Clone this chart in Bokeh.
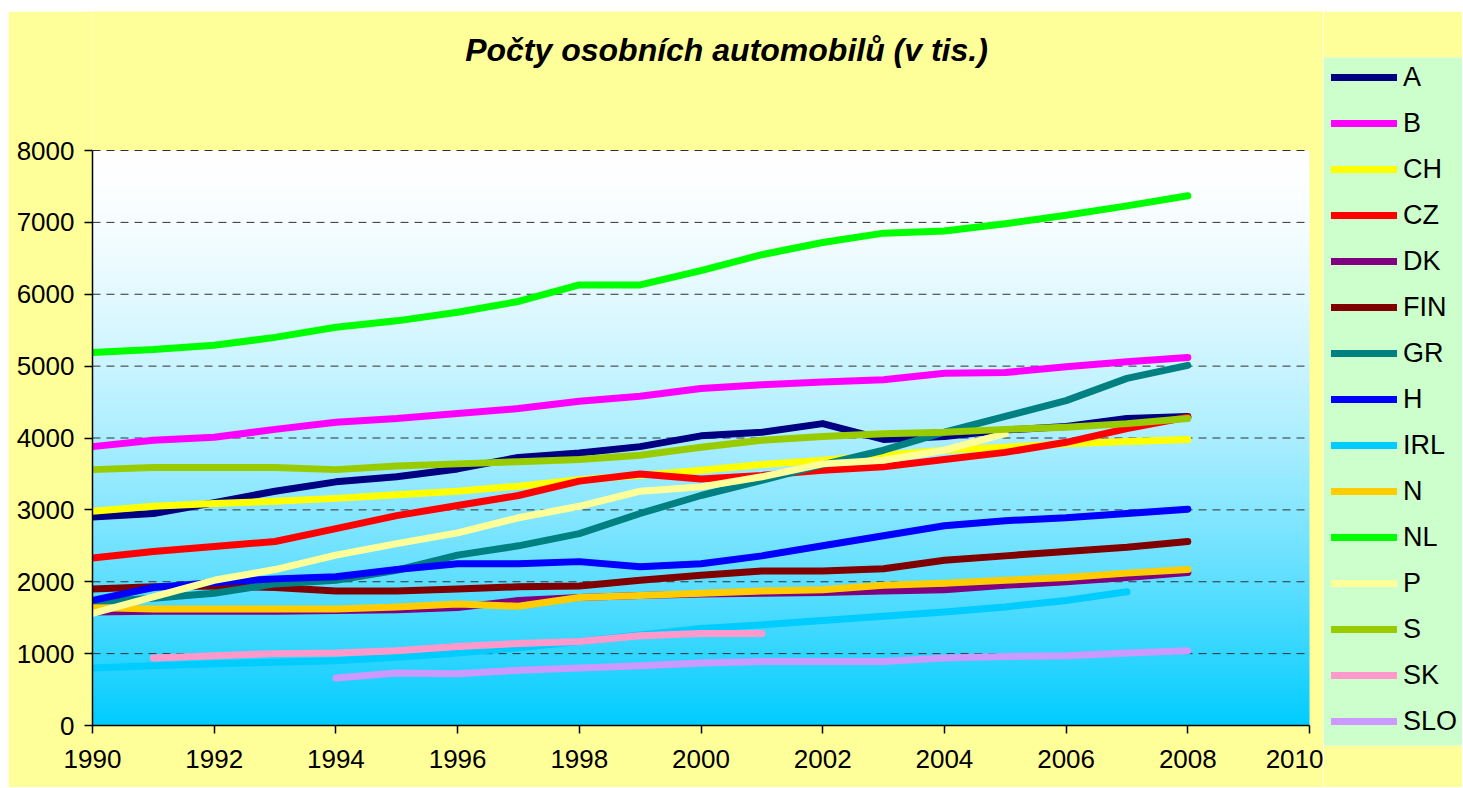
import numpy as np
from bokeh.plotting import figure
from bokeh.models import Range1d, FixedTicker, Legend, LegendItem, Label, Spacer
from bokeh.layouts import row, column
from bokeh.embed import file_html
from bokeh.resources import INLINE

# ---- data (thousands of passenger cars) ----
years = list(range(1990, 2009))
A = [2900, 2950, 3100, 3260, 3390, 3460, 3570, 3730, 3790, 3880, 4030, 4080, 4200, 3980, 4020, 4110, 4160, 4270, 4300]
B = [3880, 3970, 4010, 4120, 4220, 4270, 4340, 4410, 4510, 4580, 4690, 4740, 4780, 4810, 4900, 4910, 4990, 5060, 5120]
CH = [2980, 3050, 3090, 3120, 3160, 3210, 3260, 3330, 3420, 3480, 3550, 3630, 3690, 3760, 3830, 3870, 3920, 3950, 3980]
CZ = [2330, 2420, 2490, 2560, 2740, 2920, 3060, 3200, 3400, 3500, 3430, 3480, 3550, 3600, 3700, 3800, 3940, 4130, 4290]
DK = [1580, 1590, 1590, 1590, 1600, 1610, 1640, 1740, 1780, 1810, 1830, 1840, 1850, 1870, 1890, 1950, 2000, 2060, 2130]
FIN = [1900, 1930, 1940, 1920, 1870, 1870, 1900, 1930, 1940, 2020, 2090, 2150, 2150, 2180, 2300, 2360, 2420, 2480, 2560]
GR = [1720, 1770, 1840, 1970, 2020, 2160, 2370, 2500, 2670, 2950, 3200, 3410, 3630, 3830, 4080, 4300, 4520, 4830, 5010]
H = [1740, 1920, 1990, 2040, 2070, 2170, 2250, 2250, 2280, 2210, 2250, 2360, 2500, 2640, 2780, 2850, 2890, 2950, 3010]
IRL = [800, 830, 860, 880, 900, 950, 1010, 1080, 1170, 1260, 1350, 1400, 1460, 1520, 1580, 1650, 1740, 1860, None]
N = [1640, 1620, 1620, 1620, 1620, 1650, 1690, 1660, 1780, 1810, 1840, 1870, 1890, 1950, 1980, 2020, 2060, 2120, 2170]
NL = [5190, 5230, 5290, 5400, 5540, 5630, 5750, 5900, 6130, 6130, 6330, 6550, 6720, 6850, 6880, 6980, 7100, 7230, 7370]
P = [1560, 1790, 2020, 2170, 2370, 2530, 2680, 2890, 3050, 3260, 3320, 3460, 3640, 3690, 3830, 4060, None, None, None]
S = [3560, 3590, 3590, 3590, 3560, 3610, 3640, 3670, 3700, 3760, 3870, 3970, 4020, 4060, 4080, 4120, 4150, 4200, 4270]
SK = [None, 940, 970, 1000, 1010, 1040, 1100, 1140, 1170, 1250, 1280, 1280, None, None, None, None, None, None, None]
SLO = [None, None, None, None, 660, 730, 720, 770, 800, 830, 870, 890, 890, 890, 940, 960, 970, 1010, 1040]

series_names = ["A", "B", "CH", "CZ", "DK", "FIN", "GR", "H", "IRL", "N", "NL", "P", "S", "SK", "SLO"]
series_values = [A, B, CH, CZ, DK, FIN, GR, H, IRL, N, NL, P, S, SK, SLO]
series_colors = ["#000080", "#FF00FF", "#FFFF00", "#FF0000", "#800080", "#800000", "#008080",
                 "#0000FF", "#00CCFF", "#FFCC00", "#00FF00", "#FFFF99", "#99CC00", "#FF99CC", "#CC99FF"]
y_ticks = list(range(0, 8001, 1000))
x_ticks = list(range(1990, 2011, 2))
title_text = "Počty osobních automobilů (v tis.)"

FONT = "Liberation Sans"
YELLOW = "#FFFF99"

# ---- geometry (pixels) ----
LEFT_PAD, TOP_PAD = 8, 11
MAIN_W, H_ALL = 1315, 776
BORDER_L, BORDER_B = 84, 62
frame_w = MAIN_W - BORDER_L            # 1231
frame_h = H_ALL - BORDER_B             # 714
px_per_year = 1217 / 20.0
px_per_unit = 575 / 8000.0
x0 = x_ticks[0]
y0 = y_ticks[0]
x_end = x0 + frame_w / px_per_year
y_end = y0 + frame_h / px_per_unit

p = figure(width=MAIN_W, height=H_ALL, output_backend="svg", toolbar_location=None,
           x_range=Range1d(x0, x_end), y_range=Range1d(y0, y_end),
           min_border_left=BORDER_L, min_border_right=0, min_border_top=0,
           min_border_bottom=BORDER_B)
p.frame_align = False
p.border_fill_color = YELLOW
p.background_fill_color = YELLOW
p.outline_line_color = None

# gradient background of the plot area (white top -> cyan bottom)
n = 575
img = np.empty((n, 1), dtype=np.uint32)
view = img.view(dtype=np.uint8).reshape((n, 1, 4))
t = 1.0 - (np.arange(n) + 0.5) / n
s = t ** 1.6
view[:, 0, 0] = np.clip(255 * (1 - s), 0, 255).astype(np.uint8)
view[:, 0, 1] = np.clip(255 - 51 * s, 0, 255).astype(np.uint8)
view[:, 0, 2] = 255
view[:, 0, 3] = 255
p.image_rgba(image=[img], x=x_ticks[0], y=y_ticks[0],
             dw=x_ticks[-1] - x_ticks[0], dh=y_ticks[-1] - y_ticks[0], level="image")

# dashed horizontal grid lines limited to the plot area
gy = y_ticks[1:]
p.segment(x0=[x_ticks[0]] * len(gy), x1=[x_ticks[-1]] * len(gy), y0=gy, y1=gy,
          line_color="#303030", line_width=1, line_dash="8 6", level="underlay")
p.xgrid.grid_line_color = None
p.ygrid.grid_line_color = None

# axes
for ax in (p.xaxis[0], p.yaxis[0]):
    ax.axis_line_color = "black"
    ax.axis_line_width = 1.5
    ax.major_tick_line_color = "black"
    ax.major_tick_line_width = 1.5
    ax.major_tick_out = 8
    ax.major_tick_in = 0
    ax.minor_tick_line_color = None
    ax.major_label_text_font = FONT
    ax.major_label_text_font_size = "26px"
    ax.major_label_text_color = "black"
p.xaxis.ticker = FixedTicker(ticks=x_ticks)
p.yaxis.ticker = FixedTicker(ticks=y_ticks)
p.xaxis.bounds = (x_ticks[0], x_ticks[-1])
p.yaxis.bounds = (y_ticks[0], y_ticks[-1])
p.xaxis.major_label_standoff = 16
p.yaxis.major_label_standoff = 10

# title as a label placed above the plot area
title_cx = x0 + (726 - 92) / px_per_year
title_base = y0 + (725 - 49) / px_per_unit
p.add_layout(Label(x=title_cx, y=title_base, text=title_text, text_align="center",
                   text_baseline="alphabetic", text_font=FONT, text_font_size="32px",
                   text_font_style="bold italic", text_color="black"))

for name, vals, col in zip(series_names, series_values, series_colors):
    yv = [np.nan if v is None else v for v in vals]
    p.line(years, yv, line_color=col, line_width=7, line_cap="round", line_join="round")

# ---- legend panel ----
LEG_W = 139
p2 = figure(width=LEG_W, height=H_ALL, output_backend="svg", toolbar_location=None,
            x_axis_location=None, y_axis_location=None,
            x_range=Range1d(0, 1), y_range=Range1d(0, 1),
            min_border_left=0, min_border_right=0, min_border_top=57 - TOP_PAD,
            min_border_bottom=TOP_PAD + H_ALL - 745)
p2.frame_align = False
p2.border_fill_color = YELLOW
p2.background_fill_color = "#CCFFCC"
p2.outline_line_color = None
p2.grid.visible = False

items = []
for name, col in zip(series_names, series_colors):
    r = p2.line(x=[np.nan], y=[np.nan], line_color=col, line_width=7, line_cap="round")
    items.append(LegendItem(label=name, renderers=[r]))

legend = Legend(items=items, location=(8, 8))
legend.background_fill_alpha = 0
legend.border_line_color = None
legend.padding = 0
legend.margin = 0
legend.spacing = 14
legend.glyph_width = 66
legend.glyph_height = 32
legend.label_height = 32
legend.label_standoff = 6
legend.label_text_font = FONT
legend.label_text_font_size = "27px"
legend.label_text_color = "black"
p2.add_layout(legend)

layout = column(Spacer(height=TOP_PAD, width=10),
                row(Spacer(width=LEFT_PAD, height=10), p, p2))

open("out.html", "w").write(file_html(layout, INLINE))
